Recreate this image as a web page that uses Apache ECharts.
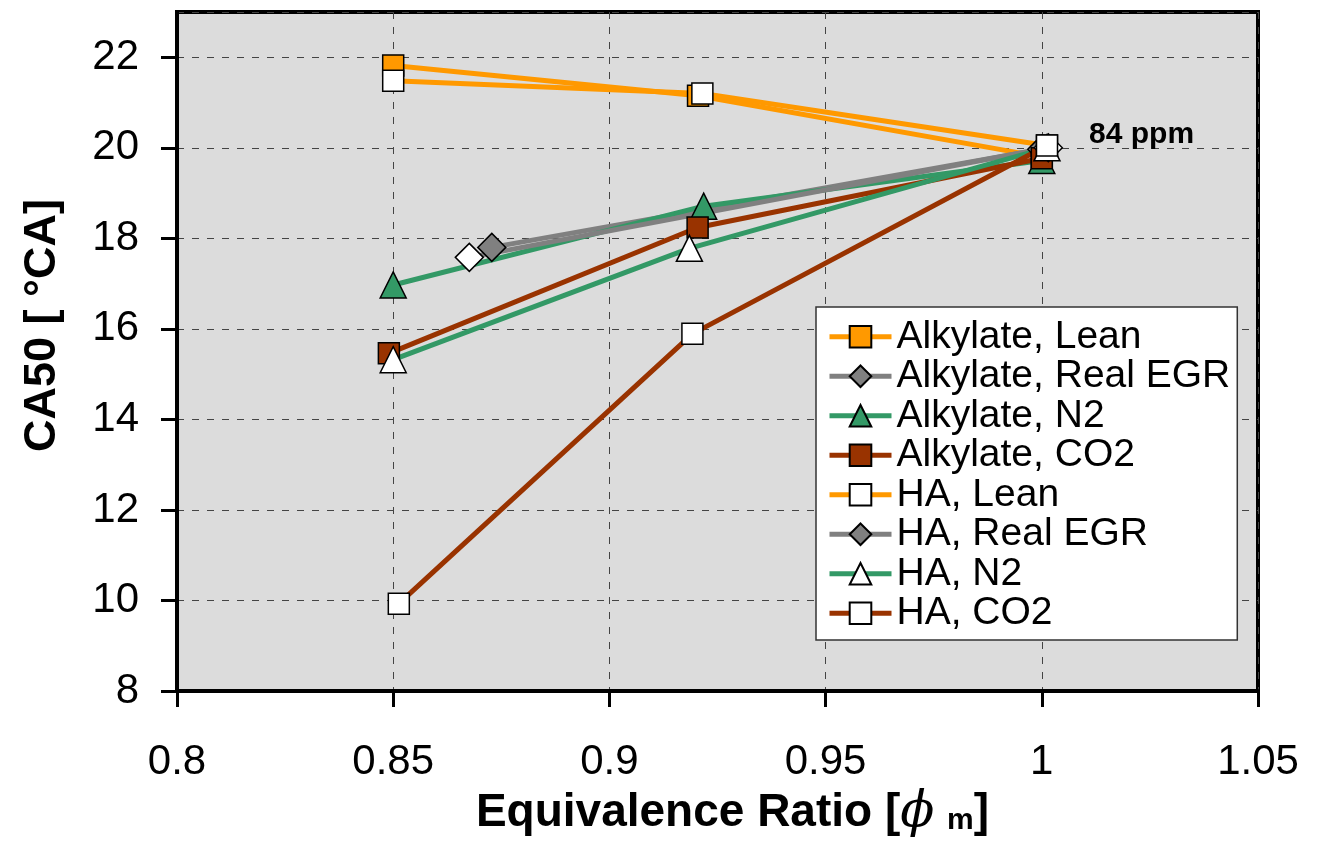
<!DOCTYPE html>
<html>
<head>
<meta charset="utf-8">
<script src="https://cdn.jsdelivr.net/npm/echarts@6/dist/echarts.min.js"></script>
<style>html,body{margin:0;padding:0;background:#fff}#c{width:1322px;height:843px}</style>
</head>
<body>
<div id="c"></div>
<script>
// ---- data (x = equivalence ratio, y = CA50 [°CA]) ----
const alkLean   = [[0.85, 21.82], [0.9205, 21.15], [1.0, 19.8]];
const alkEGR    = [[0.8728, 17.8], [1.0, 19.97]];
const alkN2     = [[0.85, 16.97], [0.9218, 18.71], [1.0, 19.72]];
const alkCO2    = [[0.849, 15.46], [0.9204, 18.24], [1.0, 19.77]];
const haLean    = [[0.85, 21.48], [0.9215, 21.2], [1.0012, 20.05]];
const haEGR     = [[0.8676, 17.58], [1.0015, 20.0]];
const haN2      = [[0.85, 15.32], [0.9185, 17.78], [1.0012, 20.0]];
const haCO2     = [[0.8513, 9.93], [0.9192, 15.89], [1.0012, 20.05]];
const seriesNames = ['Alkylate, Lean', 'Alkylate, Real EGR', 'Alkylate, N2', 'Alkylate, CO2',
                     'HA, Lean', 'HA, Real EGR', 'HA, N2', 'HA, CO2'];
const xTicks = [0.8, 0.85, 0.9, 0.95, 1, 1.05];
const yTicks = [8, 10, 12, 14, 16, 18, 20, 22];
const annotation = '84 ppm';

const ORANGE = '#FF9900', GRAY = '#808080', GREEN = '#339966', BROWN = '#993300';
const FONT = 'Liberation Sans';
const LW = 5;

function mk(name, data, color, symbol, size, fill, extra) {
  return Object.assign({
    name: name, type: 'line', data: data,
    symbol: symbol, symbolSize: size,
    lineStyle: { color: color, width: LW },
    itemStyle: { color: fill, borderColor: '#000', borderWidth: 1.5 },
    emphasis: { disabled: true },
    animation: false
  }, extra || {});
}

const chart = echarts.init(document.getElementById('c'));
chart.setOption({
  backgroundColor: '#fff',
  textStyle: { fontFamily: FONT },
  grid: { left: 177, right: 64, top: 12, bottom: 150, show: true,
          backgroundColor: '#dcdcdc', borderColor: '#000', borderWidth: 4 },
  xAxis: {
    type: 'value', min: 0.8, max: 1.05, interval: 0.05,
    axisLine: { lineStyle: { color: '#000', width: 4 } },
    axisTick: { show: true, length: 16, lineStyle: { color: '#000', width: 3 } },
    axisLabel: { fontSize: 42, color: '#000', fontFamily: FONT, margin: 50,
                 formatter: v => { const t = xTicks.find(a => Math.abs(a - v) < 1e-6); return t === undefined ? '' : String(t); } },
    splitLine: { show: true, lineStyle: { color: '#444', width: 1, type: [7, 8] } },
    name: 'Equivalence Ratio [{phi|ϕ} {sub|m}]',
    nameLocation: 'middle', nameGap: 97,
    nameTextStyle: {
      fontSize: 46, fontWeight: 'bold', color: '#000', fontFamily: FONT, padding: [0, 0, 0, 30],
      rich: {
        phi: { fontSize: 50, fontStyle: 'italic', fontWeight: 'normal', fontFamily: 'DejaVu Serif', color: '#000' },
        sub: { fontSize: 30, fontWeight: 'bold', fontFamily: FONT, color: '#000', padding: [16, 0, 0, 0] }
      }
    }
  },
  yAxis: {
    type: 'value', min: 8, max: 23, interval: 2,
    axisLine: { show: true, lineStyle: { color: '#000', width: 4 } },
    axisTick: { show: true, length: 16, lineStyle: { color: '#000', width: 3 } },
    axisLabel: { fontSize: 42, color: '#000', fontFamily: FONT, margin: 38, showMaxLabel: false,
                 formatter: v => yTicks.indexOf(v) >= 0 ? String(v) : '' },
    splitLine: { show: true, lineStyle: { color: '#444', width: 1, type: [7, 8] } },
    name: 'CA50 [ °CA]', nameLocation: 'middle', nameGap: 112, nameRotate: 90,
    nameTextStyle: { fontSize: 45, fontWeight: 'bold', color: '#000', fontFamily: FONT, padding: [0, 0, 0, 52] }
  },
  legend: {
    orient: 'vertical', left: 816, top: 307,
    backgroundColor: '#fff', borderColor: '#333', borderWidth: 1.5,
    padding: [10, 7, 7, 11], itemGap: 0, itemWidth: 62, itemHeight: 27,
    lineStyle: { width: 5 },
    textStyle: { fontSize: 39, color: '#000', fontFamily: FONT, lineHeight: 39.5 },
    data: seriesNames.map(n => n === 'HA, Real EGR' ? { name: n, itemStyle: { color: GRAY } } : n),
    selectedMode: false
  },
  series: [
    mk(seriesNames[0], alkLean, ORANGE, 'rect', 21, ORANGE),
    mk(seriesNames[1], alkEGR, GRAY, 'diamond', 28, GRAY),
    mk(seriesNames[2], alkN2, GREEN, 'triangle', 26, GREEN),
    mk(seriesNames[3], alkCO2, BROWN, 'rect', 21, BROWN),
    mk(seriesNames[4], haLean, ORANGE, 'rect', 21, '#fff'),
    mk(seriesNames[5], haEGR, GRAY, 'diamond', 28, '#fff', {
      label: { show: true, formatter: p => p.dataIndex === haEGR.length - 1 ? annotation : '',
               position: 'right', distance: 26, offset: [0, -13],
               fontSize: 30, fontWeight: 'bold', color: '#000', fontFamily: FONT }
    }),
    mk(seriesNames[6], haN2, GREEN, 'triangle', 26, '#fff'),
    mk(seriesNames[7], haCO2, BROWN, 'rect', 21, '#fff')
  ]
});
</script>
</body>
</html>
